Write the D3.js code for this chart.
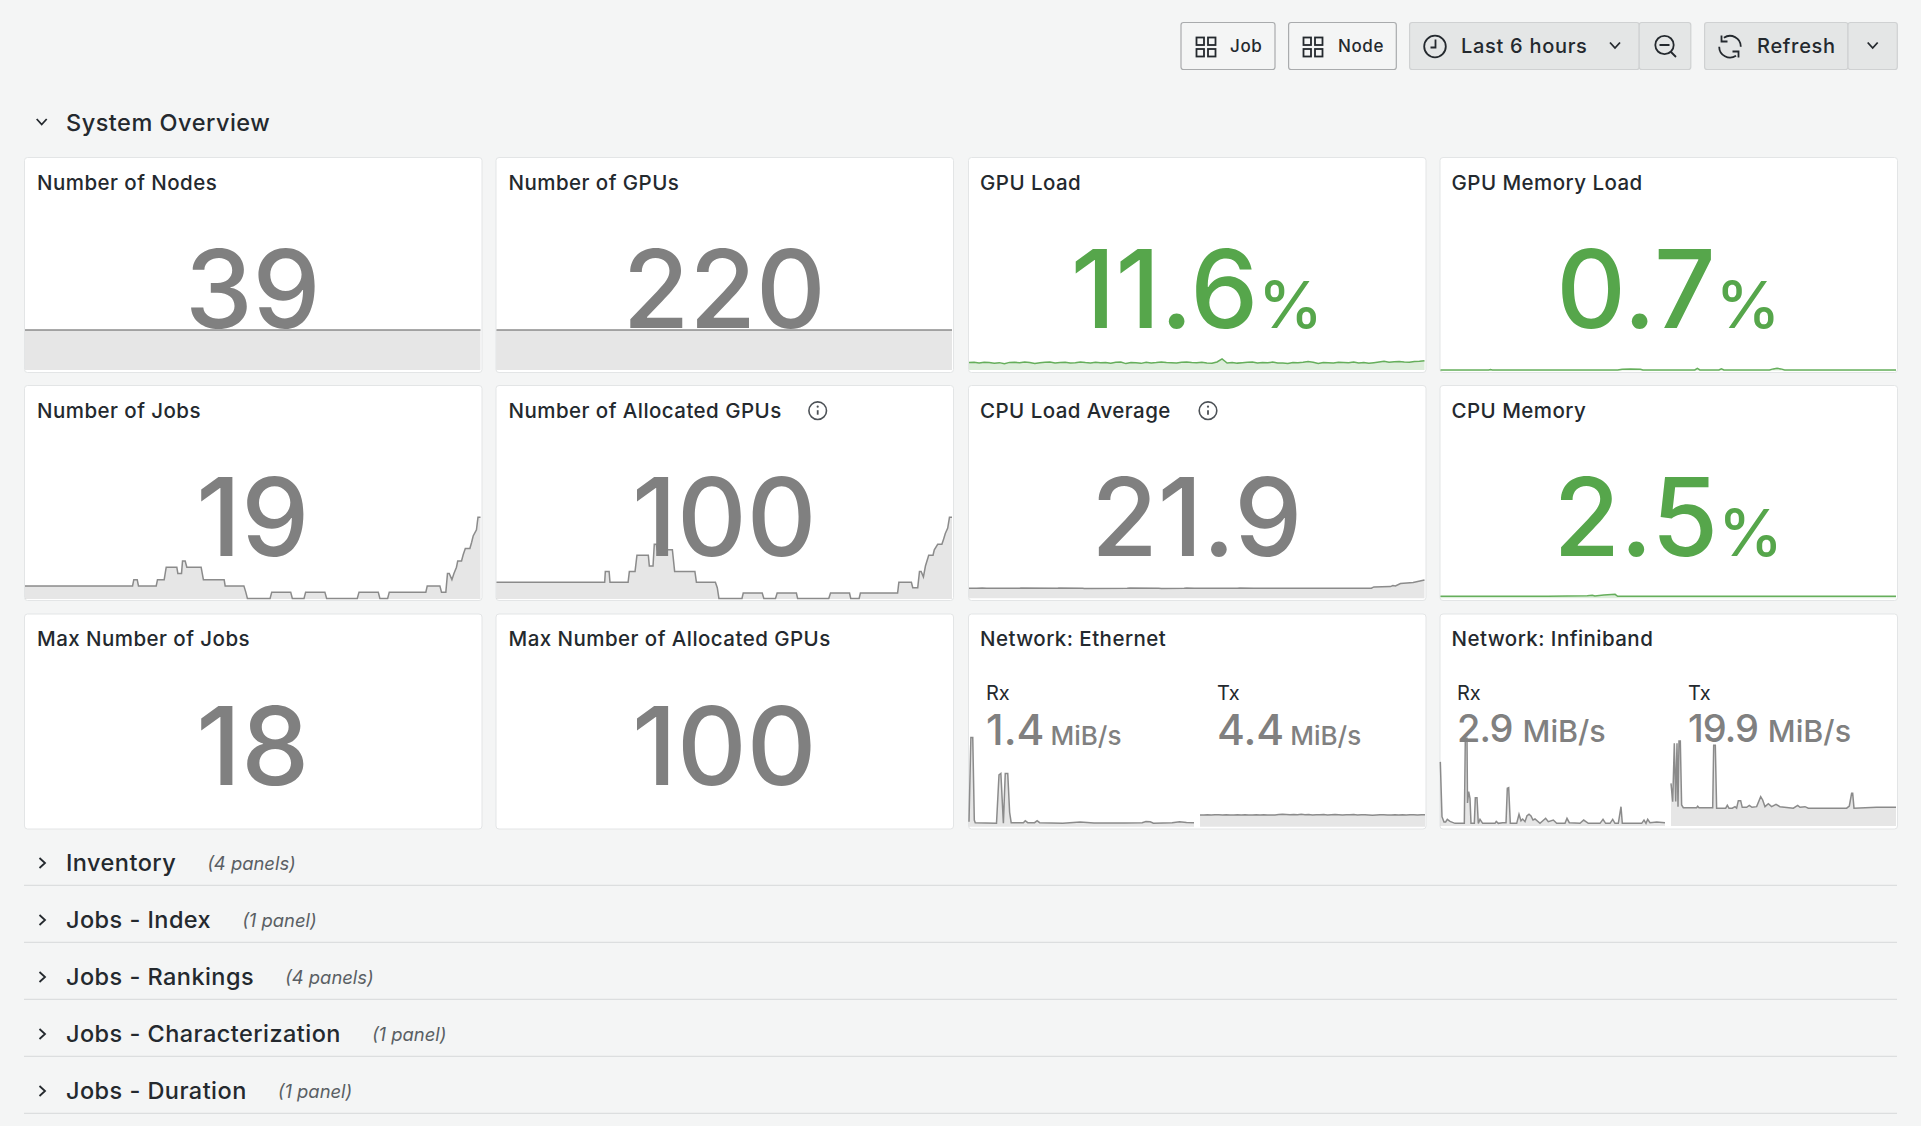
<!DOCTYPE html>
<html lang="en">
<head>
<meta charset="UTF-8">
<title>System Overview</title>
<style>
  body { margin: 0; background: #f4f5f5; overflow: hidden; }
  text { font-family: Inter, "Noto Sans", sans-serif; }
</style>
</head>
<body>
<svg id="dash" width="1921" height="1126"></svg>
<script src="https://cdn.jsdelivr.net/npm/d3@7"></script>
<script>
// panel text, left to right, top to bottom
const panelTitles = ["Number of Nodes", "Number of GPUs", "GPU Load", "GPU Memory Load",
  "Number of Jobs", "Number of Allocated GPUs", "CPU Load Average", "CPU Memory",
  "Max Number of Jobs", "Max Number of Allocated GPUs", "Network: Ethernet", "Network: Infiniband"];
const panelValues = ["39", "220", "11.6", "0.7", "19", "100", "21.9", "2.5", "18", "100", null, null];
const panelUnits = ["", "", "%", "%", "", "", "", "%", "", "", "", ""];
const sectionTitles = ["Inventory", "Jobs - Index", "Jobs - Rankings", "Jobs - Characterization", "Jobs - Duration"];
const sectionCounts = ["(4 panels)", "(1 panel)", "(4 panels)", "(1 panel)", "(1 panel)"];

// series, time in minutes into the 6 hour window
const nodeValues = [39, 39];
const gpuCountValues = [220, 220];
const gpuLoadValues = [9.4,9.6,8.8,9.8,9.3,8.4,9.2,7.8,9.5,9.7,9.0,10.0,9.4,8.2,9.2,9.7,9.9,8.8,9.4,9.6,8.7,9.2,9.9,9.3,8.9,9.7,9.1,9.5,8.6,9.6,9.9,8.0,9.4,9.1,8.3,9.7,8.9,9.4,10.1,9.3,9.0,8.8,9.6,9.9,9.3,9.1,9.7,8.7,8.5,10.0,14.0,8.8,9.5,8.6,9.2,9.7,9.9,8.9,9.4,9.1,9.9,8.8,8.6,8.2,9.4,9.1,9.7,10.6,9.8,8.1,9.4,9.2,8.7,9.7,9.3,9.0,9.9,8.8,9.4,8.5,9.2,10.0,10.8,9.8,10.4,10.7,9.9,9.6,10.6,11.0,11.6];
const gpuMemTimes = [0,38,39.5,41,140,143.6,150,158,160,201,203,205,220,222,224,260,263,266,269,272,360];
const gpuMemValues = [.7,.7,1.2,.7,.7,1.6,1.8,1.6,.7,.7,2.6,.7,.7,2.2,.7,.7,2.0,2.8,2,.7,.7];
const jobTimes = [0,85,86,88.7,89.7,103.7,104.7,110,111.6,120,120.8,123.7,124.5,126.6,127.9,139.2,141,157.4,158.2,173,174.5,175.8,193.7,195,210,211.3,220.5,221.8,237,238.4,262.6,264,279.2,280.5,286.6,287.9,316.8,317.9,327.9,329.2,332.6,333.9,335.3,337.4,339,341,342,345,346.3,348,351.6,353,354.2,356.8,358,360];
const jobCounts = [8,8,9,9,8,8,9,9,11,11,10,10,12,12,11,11,9,9,8,8,7,6,6,7,7,6,6,7,7,6,6,7,7,6,6,7,7,8,8,7,7,10,10,9,10,11,12,12,13,14,14,15,16,17,19,19];
const allocTimes = [0,85.5,86,89,89.7,104,105,109.5,111,120,120.8,123.7,124.7,126.3,127,139,140.8,156.8,158,173,174.5,175.8,194,195,210,211.3,220.5,221.8,237,238,262.6,264,279,280,286.6,287.6,317,318,327.9,329,332.9,334.3,335.6,337.4,339,341.6,345,346,348.7,352,353.4,354.7,356.6,358,360];
const allocCounts = [52,52,60,60,52,52,60,60,72,72,64,64,80,80,76,76,60,60,52,52,48,40,40,44,44,40,40,44,44,40,40,44,44,40,40,44,44,52,52,48,48,60,60,56,64,72,72,76,80,80,84,88,92,100,100];
const cpuLoadTimes = [0,6,10.5,14,40,41,70,71,90,91,125,127,150,152,170,172,178,190,212,214,225,240,242,280,318,320,333,335,337,341,351,360];
const cpuLoadValues = [12,12,12.4,11.9,11.9,12.2,11.9,12.2,11.9,11.8,11.9,12.2,11.9,11.8,12.1,12.2,11.9,11.9,12.1,12.4,11.9,12.1,11.9,11.9,12,13.6,14,15.2,14.8,17.6,19,21.9];
const cpuMemTimes = [0,85,100,116,120,122,129,138,140,360];
const cpuMemValues = [2.5,2.5,2.9,3.2,3.9,2.9,4.0,5.0,2.5,2.5];
const ethRxTimes = [0,3,6,8.5,10,44,48,51,55,58,62,65,67.5,87,90,94,105,109,113,150,178,200,250,277,283,290,295,325,337,348,360];
const ethRxValues = [1.7,31,31,2.3,1.4,1.2,18,18.5,1.2,18.5,18.5,5,1.4,1.4,2.1,1.4,1.4,2.1,1.4,1.2,1.6,1.3,1.3,1.4,1.8,1.7,1.2,1.4,1.7,1.5,1.4];
const ethTxValues = [4.3,4.3,4.4,4.3,4.4,4.4,4.3,4.4,4.3,4.3,4.4,4.3,4.4,4.3,4.3,4.4,4.3,4.4,4.3,4.3,4.3,4.5,4.6,4.5,4.4,4.5,4.4,4.6,4.4,4.5,4.3,4.4,4.4,4.5,4.3,4.4,4.5,4.4,4.3,4.4,4.4,4.5,4.3,4.4,4.4,4.3,4.2,4.3,4.4,4.4,4.3,4.3,4.4,4.3,4.4,4.3,4.4,4.4,4.3,4.4,4.4];
const ibRxTimes = [0.5,3.2,6.4,9,11.7,16,24,38.9,40.5,43.2,44,45.9,48,49.6,54.9,56.5,59.2,61.3,64,68.3,88,90,93.3,100.3,105.6,107.7,109.9,112.5,122.7,126.4,129.6,132.3,136,139.2,142.4,145.6,148.8,152,160,169,173.3,181.3,186.7,200,203.2,206.9,224,229.9,237.3,256,260.8,265,272,276.3,280,285.3,289.6,291.7,322.7,326.4,329.6,332.3,336,346.7,360];
const ibRxValues = [55.8,8.1,3.5,3.5,5.8,4,2.3,2.3,76.3,76.3,20,29.9,24,2.3,2.3,24.6,24.6,2.3,5.8,2.3,2.3,4,2.3,2.9,2.9,32.8,33.4,2.3,2.3,10.2,4.6,6.1,3.8,9,10.2,8.7,5.2,6.1,2.3,6.7,3.8,5.2,2.3,2.3,6.7,2.9,2.3,5.2,2.3,2.3,5.8,2.3,2.3,5.8,2.3,2.3,16.8,2.3,2.3,5.2,2.3,5.8,2.9,3.5,2.9];
const ibTxTimes = [0,2.7,5.3,7.5,9.6,11.2,12.8,14.9,17,19.7,41,42.7,44.8,66.7,68.3,70.9,73,87.5,90.1,92.8,98,102.4,105,107.7,111.5,114,121,125.3,129.6,137,143.5,146.7,150.4,155.7,161,168,174.4,195.7,202.7,206.4,214.4,219.7,281,285.3,289,290.7,292.8,329,360];
const ibTxValues = [45.4,25.9,88,26,88,20.6,90.5,90.5,22.4,19.5,19.5,21,19.5,19.5,86,86,19,19,22,19,19,20.6,19,27,27,19.9,19.9,22,19.9,20.6,31.2,27.7,20.6,23.8,20.6,23,20.6,19,22,19.9,20.6,19,19,21.3,34.8,34.8,19,19.9,19.9];

const GREY = "#808080", GREEN = "#56a64b", INK = "#24292e";
const colLefts = [24.5, 496, 968.5, 1440], titleLefts = [37, 508.5, 980, 1451.5], cardW = 457.5, cardH = 215;
const rowTops = [157.5, 385.5, 614], titleBases = [190, 418, 646.2];

const svg = d3.select("#dash");

// each sparkline: times (or even samples), values, value domain, pixel height
const sparks = {
  0: { v: nodeValues, d: [0, 79.7], h: 81.7, b: 370, c: GREY },
  1: { v: gpuCountValues, d: [0, 449], h: 81.7, b: 370, c: GREY },
  2: { v: gpuLoadValues, d: [0, 100], h: 80, b: 370, c: GREEN },
  3: { t: gpuMemTimes, v: gpuMemValues, d: [0, 100], h: 80, b: 370.5, c: GREEN },
  4: { t: jobTimes, v: jobCounts, d: [5.9, 19], h: 81.7, b: 599, c: GREY },
  5: { t: allocTimes, v: allocCounts, d: [39.6, 100], h: 81.7, b: 599, c: GREY },
  6: { t: cpuLoadTimes, v: cpuLoadValues, d: [0, 21.9], h: 18.3, b: 598.3, c: GREY },
  7: { t: cpuMemTimes, v: cpuMemValues, d: [0, 100], h: 80, b: 598.3, c: GREEN }
};

function drawSpark(s, x0, x1) {
  const n = s.v.length;
  const times = s.t || s.v.map((_, i) => i * 360 / (n - 1));
  const x = d3.scaleLinear().domain([0, 360]).range([x0, x1]);
  const y = d3.scaleLinear().domain(s.d).range([s.b, s.b - s.h]);
  const pts = s.v.map((v, i) => [times[i], v]);
  svg.append("path")
    .attr("d", d3.area().x(d => x(d[0])).y0(s.b).y1(d => y(d[1]))(pts))
    .attr("fill", s.c).attr("fill-opacity", 0.2);
  svg.append("path")
    .attr("d", d3.line().x(d => x(d[0])).y(d => y(d[1]))(pts))
    .attr("fill", "none").attr("stroke", s.c).attr("stroke-width", 1.5).attr("stroke-opacity", 0.9);
}

function infoIcon(cx, cy) {
  const g = svg.append("g").attr("transform", `translate(${cx},${cy})`).attr("stroke", "#4d5257").attr("fill", "none");
  g.append("circle").attr("r", 8.8).attr("stroke-width", 1.6);
  g.append("line").attr("y1", -0.5).attr("y2", 4).attr("stroke-width", 1.8);
  g.append("circle").attr("cy", -4).attr("r", 1.1).attr("fill", "#4d5257").attr("stroke", "none");
}

// cards
panelTitles.forEach((title, i) => {
  const cx = colLefts[i % 4], row = Math.floor(i / 4), top = rowTops[row];
  svg.append("rect").attr("x", cx).attr("y", top).attr("width", cardW).attr("height", cardH)
    .attr("rx", 3).attr("fill", "#fff").attr("stroke", "#e3e5e6").attr("stroke-width", 1);
  if (sparks[i]) drawSpark(sparks[i], cx + 0.5, cx + 456);
  svg.append("text").attr("x", titleLefts[i % 4]).attr("y", titleBases[row])
    .attr("font-size", 20.5).attr("font-weight", 500).attr("letter-spacing", 0.45).attr("fill", INK).text(title);
  if (panelValues[i] !== null) {
    const t = svg.append("text").attr("x", cx + cardW / 2 - 0.5).attr("y", top + 170.5)
      .attr("text-anchor", "middle").attr("font-size", 108).attr("font-weight", 500)
      .attr("fill", panelUnits[i] ? GREEN : GREY);
    t.append("tspan").text(panelValues[i]);
    if (panelUnits[i]) t.append("tspan").attr("font-size", 65).text(panelUnits[i]);
  }
});
infoIcon(817.7, 410.7);
infoIcon(1208, 410.7);

// network panels: two sub-charts each
const netSubs = [
  { s: { t: ethRxTimes, v: ethRxValues, d: [0, 31], h: 89.3, b: 826.7, c: GREY }, x0: 969, label: "Rx", val: "1.4", base: 745, size: 42.5, ls: 0, unit: 26, gap: 6 },
  { s: { v: ethTxValues, d: [0, 33], h: 89.3, b: 826.7, c: GREY }, x0: 1200, label: "Tx", val: "4.4", base: 745, size: 42.5, ls: 0, unit: 26, gap: 6 },
  { s: { t: ibRxTimes, v: ibRxValues, d: [0, 76.3], h: 87.7, b: 826, c: GREY }, x0: 1440, label: "Rx", val: "2.9", base: 742, size: 38, ls: -1, unit: 30.5, gap: 10 },
  { s: { t: ibTxTimes, v: ibTxValues, d: [0, 90.5], h: 85, b: 826, c: GREY }, x0: 1671, label: "Tx", val: "19.9", base: 742, size: 38, ls: -1, unit: 30.5, gap: 10 }
];
netSubs.forEach(n => {
  drawSpark(n.s, n.x0, n.x0 + 225);
  svg.append("text").attr("x", n.x0 + 17).attr("y", 700)
    .attr("font-size", 20).attr("font-weight", 400).attr("fill", INK).text(n.label);
  const t = svg.append("text").attr("x", n.x0 + 17).attr("y", n.base)
    .attr("font-weight", 500).attr("fill", GREY);
  t.append("tspan").attr("font-size", n.size).attr("letter-spacing", n.ls).text(n.val);
  t.append("tspan").attr("dx", n.gap).attr("font-size", n.unit).text("MiB/s");
});

// collapsed rows
function caret(cx, cy, open) {
  const p = open ? `M${cx - 5},${cy - 3}L${cx},${cy + 2.5}L${cx + 5},${cy - 3}` : `M${cx - 2.5},${cy - 5}L${cx + 3},${cy}L${cx - 2.5},${cy + 5}`;
  svg.append("path").attr("d", p).attr("fill", "none").attr("stroke", INK).attr("stroke-width", 1.8);
}
caret(41.7, 122, true);
svg.append("text").attr("x", 66).attr("y", 130.7).attr("font-size", 23.5).attr("font-weight", 450)
  .attr("letter-spacing", 0.5).attr("fill", INK).text("System Overview");
sectionTitles.forEach((title, i) => {
  const base = 870.7 + i * 57;
  caret(42, base - 7.7, false);
  const t = svg.append("text").attr("x", 66).attr("y", base).attr("fill", INK);
  t.append("tspan").attr("font-size", 23.5).attr("font-weight", 450).attr("letter-spacing", 0.45).text(title);
  t.append("tspan").attr("dx", 31).attr("dy", -1).attr("font-size", 18.4).attr("font-weight", 400)
    .attr("font-style", "italic").attr("fill", "#5a5f64").text(sectionCounts[i]);
  svg.append("line").attr("x1", 24).attr("x2", 1897).attr("y1", base + 14.6).attr("y2", base + 14.6)
    .attr("stroke", "#dcdedf").attr("stroke-width", 1.2);
});

// toolbar
function button(x0, x1, fill, stroke) {
  svg.append("rect").attr("x", x0).attr("y", 22.5).attr("width", x1 - x0).attr("height", 47)
    .attr("rx", 2.5).attr("fill", fill).attr("stroke", stroke).attr("stroke-width", 1.2);
}
function btnText(x, s, size, ls) {
  svg.append("text").attr("x", x).attr("y", 46).attr("dy", "0.36em").attr("font-size", size)
    .attr("font-weight", 450).attr("letter-spacing", ls).attr("fill", INK).text(s);
}
function gridIcon(x) {
  [[0, 0], [11.5, 0], [0, 11.5], [11.5, 11.5]].forEach(o => {
    svg.append("rect").attr("x", x + o[0]).attr("y", 37.5 + o[1]).attr("width", 7.5).attr("height", 7.5)
      .attr("fill", "none").attr("stroke", INK).attr("stroke-width", 1.8);
  });
}
button(1181, 1275, "#f4f5f5", "#a9abad");
button(1288.6, 1396.3, "#f4f5f5", "#a9abad");
button(1409.6, 1639.2, "#e4e6e6", "#cfd1d2");
button(1639.2, 1690.8, "#e4e6e6", "#cfd1d2");
button(1704.6, 1848, "#e4e6e6", "#cfd1d2");
button(1848, 1897.3, "#e4e6e6", "#cfd1d2");
gridIcon(1196.5);
gridIcon(1303.5);
btnText(1230, "Job", 17, 0.6);
btnText(1338, "Node", 17, 0.6);
btnText(1461, "Last 6 hours", 20, 0.7);
btnText(1757, "Refresh", 20, 0.7);
caret(1615, 45.5, true);
caret(1872.7, 45.5, true);

const ico = svg.append("g").attr("fill", "none").attr("stroke", INK).attr("stroke-width", 1.8);
// clock
ico.append("circle").attr("cx", 1435).attr("cy", 46.5).attr("r", 10.8);
ico.append("path").attr("d", "M1435.5,39.5V47.5H1430.5");
// zoom out
ico.append("circle").attr("cx", 1664.5).attr("cy", 45).attr("r", 9.2);
ico.append("path").attr("d", "M1659.5,45H1669.5M1671,52L1676,57");
// refresh
const arc = d3.arc().innerRadius(10.8).outerRadius(10.8);
ico.append("path").attr("transform", "translate(1730,46.7)")
  .attr("d", arc({ startAngle: -0.6, endAngle: 1.57 }) + arc({ startAngle: 2.55, endAngle: 4.71 }));
ico.append("path").attr("d", "M1721.5,35.5V41.5H1727.5M1738.5,57.5V51.5H1732.5");
</script>
</body>
</html>
